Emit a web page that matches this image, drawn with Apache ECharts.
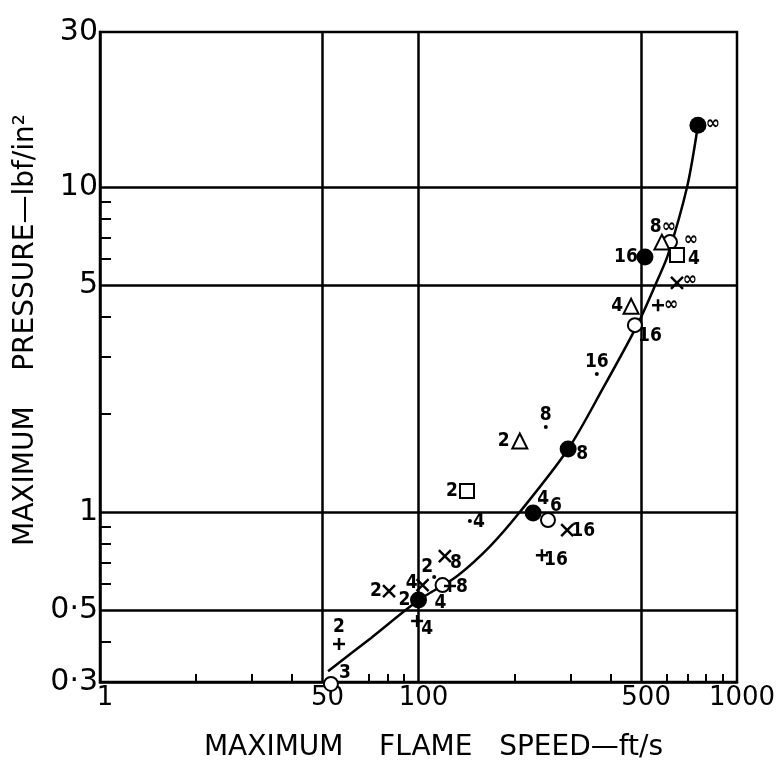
<!DOCTYPE html>
<html>
<head>
<meta charset="utf-8">
<script src="https://cdn.jsdelivr.net/npm/echarts@6/dist/echarts.min.js"></script>
<style>
  html, body { margin: 0; padding: 0; background: #fff; }
  #chart { width: 781px; height: 767px; }
</style>
</head>
<body>
<div id="chart"></div>
<script>
// Maximum flame speed (ft/s) against maximum pressure (lbf/in²), log–log.
// Point labels give the tube/vent parameter of each test.

// Axis ticks and their printed labels
const xLabelValues = [10, 50, 100, 500, 1000];
const xLabelTexts = ['1', '50', '100', '500', '1000'];
const xMinorTicks = [20, 30, 40, 70, 80, 90, 200, 300, 400, 600, 700, 800, 900];
const yLabelValues = [0.3, 0.5, 1, 5, 10, 30];
const yLabelTexts = ['0·3', '0·5', '1', '5', '10', '30'];
const yMinorTicks = [0.4, 0.6, 0.7, 0.8, 0.9, 2, 3, 4, 6, 7, 8, 9];
const xGridValues = [50, 100, 500];
const yGridValues = [0.5, 1, 5, 10];

// Fitted curve
const curveSpeed = [52, 71, 100, 132, 168, 208, 295, 380, 486, 561, 607, 697, 754];
const curvePressure = [0.324, 0.41, 0.535, 0.635, 0.786, 1.0, 1.563, 2.41, 3.76, 5.14, 6.18, 10, 15.5];

// Filled circles
const filledSpeed = [100, 229, 295, 514, 754];
const filledPressure = [0.536, 0.993, 1.563, 6.09, 15.5];
const filledTag = ['2', '4', '8', '16', '∞'];

// Open circles
const openSpeed = [53.1, 119, 255, 478, 616];
const openPressure = [0.296, 0.596, 0.945, 3.76, 6.77];
const openTag = ['3', '4', '6', '16', '∞'];

// Open squares
const squareSpeed = [142, 648];
const squarePressure = [1.16, 6.18];
const squareTag = ['2', '4'];

// Open triangles
const triangleSpeed = [208, 465, 581];
const trianglePressure = [1.654, 4.30, 6.77];
const triangleTag = ['2', '4', '8∞'];

// Crosses
const crossSpeed = [80.8, 103, 121, 293, 648];
const crossPressure = [0.571, 0.596, 0.732, 0.880, 5.07];
const crossTag = ['2', '4', '8', '16', '∞'];

// Plus signs
const plusSpeed = [56.3, 99, 125.6, 244, 565];
const plusPressure = [0.393, 0.462, 0.592, 0.737, 4.33];
const plusTag = ['2', '4', '8', '16', '∞'];

// Small dots
const dotSpeed = [112, 145, 251, 363];
const dotPressure = [0.631, 0.938, 1.826, 2.66];
const dotTag = ['2', '4', '8', '16'];

// ---- styling ----
const AXIS_FONT = "'DejaVu Sans', sans-serif";
const TAG_FONT = "'Liberation Sans Narrow', 'DejaVu Sans Condensed', 'Liberation Sans', sans-serif";

// where each tag sits relative to its marker (px)
const tagShift = {
  filled:   [[-14, 0], [10, -14], [14, 5], [-19, 0], [15, -1]],
  open:     [[14, -11], [-2, 18], [8, -14], [15, 11], [21, -2]],
  square:   [[-15, 0], [17, 4]],
  triangle: [[-16, 0], [-14, 0], [1, -15]],
  cross:    [[-13, 0], [-11, -2], [11, 7], [16, 1], [13, -3]],
  plus:     [[0, -17], [10, 8], [12, 1], [14, 5], [13, 0]],
  dot:      [[-7, -10], [9, 1], [0, -12], [0, -12]]
};

function pickLabel(values, texts, v) {
  for (let i = 0; i < values.length; i++) {
    if (Math.abs(Math.log10(v) - Math.log10(values[i])) < 1e-6) return texts[i];
  }
  return '';
}

function markerSeries(name, xs, ys, tags, shifts, symbol, size, itemStyle) {
  return {
    name: name,
    type: 'scatter',
    clip: false,
    symbol: symbol,
    symbolSize: size,
    itemStyle: Object.assign({ opacity: 1 }, itemStyle),
    emphasis: { disabled: true },
    z: 5,
    data: xs.map((x, i) => ({
      value: [x, ys[i]],
      label: {
        show: true,
        formatter: tags[i],
        position: 'inside',
        offset: shifts[i],
        color: '#000',
        opacity: 1,
        fontFamily: TAG_FONT,
        fontWeight: 'bold',
        fontSize: 19
      }
    }))
  };
}

const strokeOnly = { color: 'none', borderColor: '#000', borderWidth: 2.5 };
const hollow = { color: '#000', borderColor: '#000', borderWidth: 2 };

const chart = echarts.init(document.getElementById('chart'), null, { renderer: 'canvas' });

chart.setOption({
  backgroundColor: '#fff',
  animation: false,
  grid: {
    left: 100, right: 44, top: 32, bottom: 83,
    show: true, borderColor: '#000', borderWidth: 2.5, backgroundColor: 'transparent'
  },
  xAxis: {
    type: 'log',
    logBase: 10,
    min: 10,
    max: 1000,
    name: 'MAXIMUM    FLAME   SPEED—ft/s',
    nameLocation: 'middle',
    nameGap: 52,
    nameTextStyle: { fontFamily: AXIS_FONT, fontSize: 28, color: '#000', padding: [0, 0, 0, 30] },
    axisLine: { show: true, lineStyle: { color: '#000', width: 2.5 } },
    axisTick: { show: true, inside: true, length: 8, customValues: xMinorTicks, lineStyle: { color: '#000', width: 2 } },
    minorTick: { show: false },
    axisLabel: {
      show: true,
      customValues: xLabelValues,
      formatter: v => pickLabel(xLabelValues, xLabelTexts, v),
      fontFamily: AXIS_FONT, fontSize: 26, color: '#000', margin: 3,
      padding: [0, 0, 0, 10]
    },
    splitLine: { show: false }
  },
  yAxis: {
    type: 'log',
    logBase: 10,
    min: 0.3,
    max: 30,
    name: 'MAXIMUM    PRESSURE—lbf/in²',
    nameLocation: 'middle',
    nameGap: 60,
    nameRotate: 90,
    nameTextStyle: { fontFamily: AXIS_FONT, fontSize: 28, color: '#000', padding: [0, 0, 0, 54] },
    axisLine: { show: true, lineStyle: { color: '#000', width: 2.5 } },
    axisTick: { show: true, inside: true, length: 11, customValues: yMinorTicks, lineStyle: { color: '#000', width: 2 } },
    minorTick: { show: false },
    axisLabel: {
      show: true,
      customValues: yLabelValues,
      formatter: v => pickLabel(yLabelValues, yLabelTexts, v),
      fontFamily: AXIS_FONT, fontSize: 30, color: '#000', margin: 2,
      verticalAlign: 'middle',
      padding: [0, 0, 20, 0]
    },
    splitLine: { show: false }
  },
  series: [
    {
      name: 'curve',
      type: 'line',
      smooth: 0.3,
      showSymbol: false,
      symbol: 'none',
      lineStyle: { color: '#000', width: 2.5 },
      emphasis: { disabled: true },
      z: 3,
      data: curveSpeed.map((x, i) => [x, curvePressure[i]]),
      markLine: {
        silent: true,
        symbol: ['none', 'none'],
        label: { show: false },
        emphasis: { disabled: true },
        lineStyle: { type: 'solid', color: '#000', width: 2.5, opacity: 1 },
        data: xGridValues.map(v => ({ xAxis: v })).concat(yGridValues.map(v => ({ yAxis: v })))
      }
    },
    markerSeries('filled', filledSpeed, filledPressure, filledTag, tagShift.filled, 'circle', 17, { color: '#000' }),
    markerSeries('open', openSpeed, openPressure, openTag, tagShift.open, 'emptyCircle', 14, hollow),
    markerSeries('square', squareSpeed, squarePressure, squareTag, tagShift.square, 'emptyRect', 14, hollow),
    markerSeries('triangle', triangleSpeed, trianglePressure, triangleTag, tagShift.triangle, 'emptyTriangle', 15, hollow),
    markerSeries('cross', crossSpeed, crossPressure, crossTag, tagShift.cross, 'path://M0,0L10,10M10,0L0,10', 12, strokeOnly),
    markerSeries('plus', plusSpeed, plusPressure, plusTag, tagShift.plus, 'path://M5,0L5,10M0,5L10,5', 12, strokeOnly),
    markerSeries('dot', dotSpeed, dotPressure, dotTag, tagShift.dot, 'circle', 4, { color: '#000' })
  ]
});
</script>
</body>
</html>
